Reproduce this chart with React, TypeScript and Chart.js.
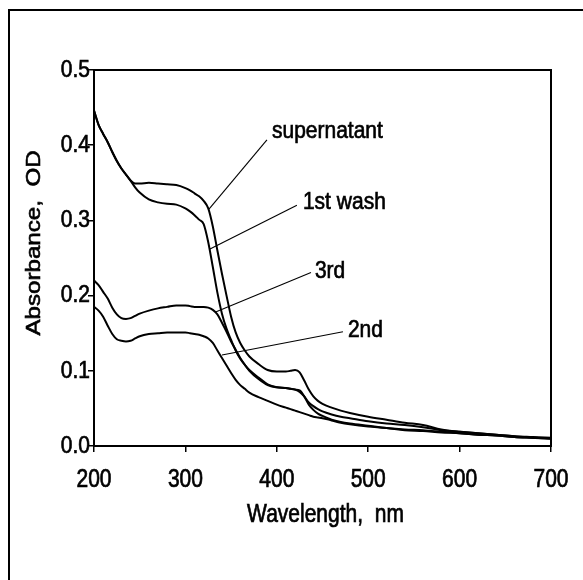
import React, { useEffect, useRef } from 'react';
import { Chart, registerables } from 'chart.js';

Chart.register(...registerables);

// ---- data ----
const wavelengths = [
  200, 205, 210, 215, 220, 225, 230, 235, 240, 245, 250,
  260, 270, 280, 290, 300,
  305, 310, 315, 320, 325, 330, 335, 340, 345, 350, 355, 360, 365, 370,
  380, 390, 400, 410,
  415, 420, 425, 430, 435, 440, 445, 450,
  460, 470, 480,
  500, 520, 540, 560, 580, 600, 620, 640, 660, 680, 700,
];

const supernatant = [
  0.446, 0.427, 0.415, 0.404, 0.391, 0.379, 0.369, 0.361, 0.353, 0.349, 0.349,
  0.350, 0.349, 0.348, 0.347, 0.343,
  0.340, 0.336, 0.332, 0.326, 0.316, 0.292, 0.260, 0.229, 0.200, 0.172, 0.151, 0.137, 0.127, 0.119,
  0.109, 0.101, 0.099, 0.099,
  0.100, 0.101, 0.098, 0.087, 0.075, 0.066, 0.060, 0.056,
  0.051, 0.047, 0.044,
  0.039, 0.035, 0.031, 0.028, 0.022, 0.019, 0.017, 0.015, 0.013, 0.011, 0.010,
];

const firstWash = [
  0.446, 0.427, 0.415, 0.404, 0.391, 0.379, 0.369, 0.361, 0.353, 0.344, 0.337,
  0.328, 0.324, 0.322, 0.321, 0.316,
  0.312, 0.307, 0.301, 0.295, 0.271, 0.238, 0.204, 0.176, 0.156, 0.141, 0.127, 0.116, 0.108, 0.101,
  0.091, 0.082, 0.078, 0.077,
  0.076, 0.075, 0.072, 0.066, 0.058, 0.053, 0.049, 0.046,
  0.042, 0.039, 0.037,
  0.033, 0.030, 0.028, 0.025, 0.021, 0.019, 0.017, 0.015, 0.013, 0.012, 0.011,
];

const thirdWash = [
  0.220, 0.214, 0.205, 0.196, 0.184, 0.175, 0.170, 0.169, 0.170, 0.173, 0.176,
  0.180, 0.183, 0.185, 0.187, 0.187,
  0.186, 0.185, 0.185, 0.185, 0.184, 0.181, 0.175, 0.164, 0.152, 0.139, 0.128, 0.117, 0.108, 0.100,
  0.089, 0.081, 0.078, 0.077,
  0.076, 0.075, 0.074, 0.066, 0.055, 0.048, 0.043, 0.040,
  0.035, 0.032, 0.030,
  0.027, 0.024, 0.022, 0.021, 0.019, 0.017, 0.015, 0.014, 0.012, 0.011, 0.010,
];

const secondWash = [
  0.185, 0.180, 0.172, 0.160, 0.149, 0.142, 0.140, 0.139, 0.140, 0.143, 0.146,
  0.149, 0.150, 0.151, 0.151, 0.151,
  0.150, 0.149, 0.148, 0.146, 0.143, 0.137, 0.127, 0.117, 0.107, 0.097, 0.088, 0.081, 0.076, 0.071,
  0.065, 0.060, 0.055, 0.051,
  0.049, 0.047, 0.045, 0.043, 0.041, 0.039, 0.038, 0.037,
  0.034, 0.031, 0.029,
  0.026, 0.024, 0.021, 0.020, 0.018, 0.017, 0.015, 0.014, 0.012, 0.011, 0.010,
];

const xTickValues = [200, 300, 400, 500, 600, 700];
const xTickLabels = ['200', '300', '400', '500', '600', '700'];
const yTickValues = [0.0, 0.1, 0.2, 0.3, 0.4, 0.5];
const yTickLabels = ['0.0', '0.1', '0.2', '0.3', '0.4', '0.5'];

const xTitle = 'Wavelength,  nm';
const yTitle = 'Absorbance,  OD';

// curve labels and their leader lines (data coordinates)
const labelTexts = ['supernatant', '1st wash', '3rd', '2nd'];
const labelX = [394.7, 428.6, 441.7, 477.8];
const labelY = [0.4096, 0.3148, 0.223, 0.1445];
const leaderFromX = [389.2, 422, 437.4, 472.4];
const leaderFromY = [0.407, 0.32, 0.2307, 0.152];
const leaderToX = [325.8, 326.9, 332.4, 340];
const leaderToY = [0.315, 0.262, 0.178, 0.121];

const FONT = '21px "Liberation Sans", Arial, Helvetica, sans-serif';

function drawText(
  ctx: CanvasRenderingContext2D,
  s: string,
  x: number,
  y: number,
  align: CanvasTextAlign,
  baseline: CanvasTextBaseline,
  sx: number,
  sy: number,
  rotate = false
) {
  ctx.save();
  ctx.translate(x, y);
  if (rotate) ctx.rotate(-Math.PI / 2);
  ctx.scale(sx, sy);
  ctx.font = FONT;
  ctx.textAlign = align;
  ctx.textBaseline = baseline;
  ctx.fillStyle = '#000';
  ctx.strokeStyle = '#000';
  ctx.lineWidth = 0.6;
  ctx.fillText(s, 0, 0);
  ctx.strokeText(s, 0, 0);
  ctx.restore();
}

const decorPlugin = {
  id: 'decor',
  afterDraw(chart: any) {
    const ctx: CanvasRenderingContext2D = chart.ctx;
    const area = chart.chartArea;
    const xs = chart.scales.x;
    const ys = chart.scales.y;

    ctx.save();
    // outer figure frame (only top and left edges lie inside the picture)
    ctx.strokeStyle = '#000';
    ctx.lineWidth = 2;
    ctx.strokeRect(9, 10, 640, 640);

    // plot frame
    ctx.lineWidth = 2;
    ctx.strokeRect(area.left, area.top, area.right - area.left, area.bottom - area.top);

    // leader lines
    ctx.lineWidth = 1.1;
    for (let i = 0; i < labelTexts.length; i++) {
      ctx.beginPath();
      ctx.moveTo(xs.getPixelForValue(leaderFromX[i]), ys.getPixelForValue(leaderFromY[i]));
      ctx.lineTo(xs.getPixelForValue(leaderToX[i]), ys.getPixelForValue(leaderToY[i]));
      ctx.stroke();
    }
    ctx.restore();

    // curve labels
    for (let i = 0; i < labelTexts.length; i++) {
      drawText(ctx, labelTexts[i], xs.getPixelForValue(labelX[i]), ys.getPixelForValue(labelY[i]), 'left', 'alphabetic', 1, 1.1);
    }

    // tick labels
    for (let i = 0; i < xTickValues.length; i++) {
      drawText(ctx, xTickLabels[i], xs.getPixelForValue(xTickValues[i]), area.bottom + 41, 'center', 'alphabetic', 1, 1.2);
    }
    for (let i = 0; i < yTickValues.length; i++) {
      drawText(ctx, yTickLabels[i], area.left - 4, ys.getPixelForValue(yTickValues[i]) + 0.5, 'right', 'middle', 1, 1.1);
    }

    // axis titles
    drawText(ctx, xTitle, (area.left + area.right) / 2 + 3, area.bottom + 76, 'center', 'alphabetic', 1, 1.2);
    drawText(ctx, yTitle, area.left - 54, (area.top + area.bottom) / 2 - 15, 'center', 'alphabetic', 1.15, 1, true);
  },
};

function makeSeries(values: number[]) {
  return wavelengths.map((w, i) => ({ x: w, y: values[i] }));
}

export default function App() {
  const canvasRef = useRef<HTMLCanvasElement | null>(null);

  useEffect(() => {
    const canvas = canvasRef.current;
    if (!canvas) return;
    const seriesList = [supernatant, firstWash, thirdWash, secondWash];
    const names = ['supernatant', '1st wash', '3rd', '2nd'];
    const chart = new Chart(canvas, {
      type: 'line',
      data: {
        datasets: seriesList.map((s, i) => ({
          label: names[i],
          data: makeSeries(s),
          borderColor: '#000',
          borderWidth: 2,
          pointRadius: 0,
          fill: false,
          cubicInterpolationMode: 'monotone' as const,
        })),
      },
      options: {
        responsive: false,
        animation: false,
        layout: { padding: { left: 88, right: 32, top: 70, bottom: 128 } },
        plugins: { legend: { display: false }, tooltip: { enabled: false } },
        scales: {
          x: {
            type: 'linear',
            min: 200,
            max: 700,
            ticks: { display: false, stepSize: 100 },
            grid: { drawOnChartArea: false, drawTicks: true, tickLength: 6, color: '#000', lineWidth: 1.5 },
            border: { display: true, color: '#000', width: 2 },
          },
          y: {
            type: 'linear',
            min: 0,
            max: 0.5,
            ticks: { display: false, stepSize: 0.1 },
            grid: { drawOnChartArea: false, drawTicks: true, tickLength: 6, color: '#000', lineWidth: 1.5 },
            border: { display: true, color: '#000', width: 2 },
          },
        },
      },
      plugins: [decorPlugin],
    });
    return () => chart.destroy();
  }, []);

  return (
    <div style={{ position: 'fixed', left: 0, top: 0, width: 583, height: 580, background: '#fff' }}>
      <canvas ref={canvasRef} width={583} height={580} style={{ display: 'block' }} />
    </div>
  );
}
